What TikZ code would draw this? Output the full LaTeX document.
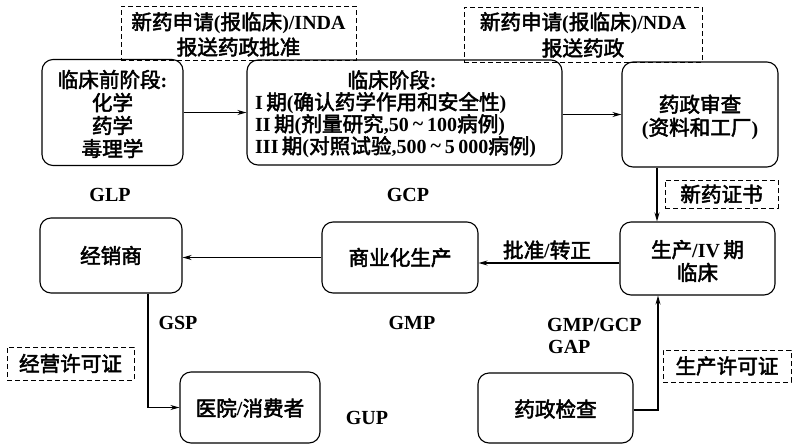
\documentclass[tikz,border=0pt]{standalone}
\usepackage{fontspec}
\setmainfont{Liberation Serif}
\newfontfamily\cjk{Noto Sans CJK SC}[FakeBold=2.4,Scale=1.03]
\newcommand\zh[1]{{\cjk\mdseries #1}}
\newcommand\tld{\hspace{4pt}\raisebox{1pt}{\textasciitilde}\hspace{4pt}}
\usetikzlibrary{arrows.meta}
\begin{document}
\begin{tikzpicture}[x=1pt,y=-1pt,
  box/.style={draw,line width=1.1pt,rounded corners=11pt,inner sep=0pt},
  dbox/.style={draw,line width=1pt,dash pattern=on 5pt off 3pt,inner sep=0pt},
  arr/.style={line width=1.1pt,-{Stealth[length=9pt,width=5pt]}},
  lab/.style={font=\bfseries\fontsize{20}{23}\selectfont,align=center,inner sep=0pt},
  txt/.style={font=\bfseries\fontsize{20}{23}\selectfont,inner sep=0pt}]
\useasboundingbox (0,0) rectangle (793,445);
% dashed label boxes
\node[dbox,minimum width=235pt,minimum height=54pt] (d1) at (238.5,33) {};
\node[dbox,minimum width=238pt,minimum height=55pt] (d2) at (583,34.5) {};
\node[dbox,minimum width=113pt,minimum height=28pt] (d3) at (721.5,194) {};
\node[dbox,minimum width=127pt,minimum height=33pt] (d4) at (70.5,363.5) {};
\node[dbox,minimum width=128pt,minimum height=32pt] (d5) at (727,366) {};
\node[lab] (d1a) at (238.5,23) {\zh{新药申请}(\zh{报临床})/INDA};
\node[lab] (d1b) at (238.5,47) {\zh{报送药政批准}};
\node[lab] (d2a) at (583,23) {\zh{新药申请}(\zh{报临床})/NDA};
\node[lab] (d2b) at (583,48) {\zh{报送药政}};
\node[lab] (d3t) at (721.5,194) {\zh{新药证书}};
\node[lab] (d4t) at (70.5,363.5) {\zh{经营许可证}};
\node[lab] (d5t) at (727,366) {\zh{生产许可证}};
% main boxes
\node[box,minimum width=141pt,minimum height=106pt] (pre) at (112.5,112.5) {};
\node[box,minimum width=315pt,minimum height=105pt] (clin) at (404.5,112.5) {};
\node[box,minimum width=156pt,minimum height=105pt] (rev) at (700,114.5) {};
\node[box,minimum width=155pt,minimum height=73pt] (prod) at (697.5,258.5) {};
\node[box,minimum width=156pt,minimum height=71pt] (comm) at (400,257.5) {};
\node[box,minimum width=142pt,minimum height=75pt] (dist) at (111,255.5) {};
\node[box,minimum width=140pt,minimum height=71pt] (hosp) at (250,407.5) {};
\node[box,minimum width=155pt,minimum height=70pt] (insp) at (555.5,408) {};
% box texts
\node[lab] (pret) at (112.5,114) {\zh{临床前阶段}:\\\zh{化学}\\\zh{药学}\\\zh{毒理学}};
\node[txt] (clt0) at (392,80) {\zh{临床阶段}:};
\node[txt,anchor=west] (clt1) at (255,103) {I\,\zh{期}(\zh{确认药学作用和安全性})};
\node[txt,anchor=west] (clt2) at (255,125) {II\,\zh{期}(\zh{剂量研究},50\tld100\zh{病例})};
\node[txt,anchor=west] (clt3) at (255,147) {III\,\zh{期}(\zh{对照试验},500\tld5\,000\zh{病例})};
\node[lab] (revt) at (700,117) {\zh{药政审查}\\(\zh{资料和工厂})};
\node[lab] (prodt) at (697.5,261) {\zh{生产}/IV\,\zh{期}\\\zh{临床}};
\node[lab] (commt) at (400,257.5) {\zh{商业化生产}};
\node[lab] (distt) at (111,255.5) {\zh{经销商}};
\node[lab] (hospt) at (250,408) {\zh{医院}/\zh{消费者}};
\node[lab] (inspt) at (555.5,409) {\zh{药政检查}};
% free labels
\node[txt] (glp) at (110,195) {GLP};
\node[txt] (gcp) at (408,195) {GCP};
\node[txt] (gsp) at (178,323) {GSP};
\node[txt] (gmp) at (412,323) {GMP};
\node[txt] (gup) at (367,418) {GUP};
\node[txt] (pz) at (547,250) {\zh{批准}/\zh{转正}};
\node[txt,anchor=west] (gmpgcp) at (547,325) {GMP/GCP};
\node[txt,anchor=west] (gap) at (548,347) {GAP};
% connectors
\draw[arr] (pre.east) -- (clin.west);
\draw[arr] (rev.west -| clin.east) -- (rev.west);
\draw[arr] ([xshift=-43pt]rev.south) -- ([xshift=-43pt]rev.south |- prod.north);
\draw[arr] ([yshift=-4.5pt]prod.west) -- ([yshift=-4.5pt]prod.west -| comm.east);
\draw[arr] (comm.west) -- (comm.west -| dist.east);
\draw[arr] ([xshift=37pt]dist.south) |- (hosp.west);
\draw[arr] ([yshift=-2pt]insp.east) -| ([xshift=-39.5pt]prod.south);
\end{tikzpicture}
\end{document}
